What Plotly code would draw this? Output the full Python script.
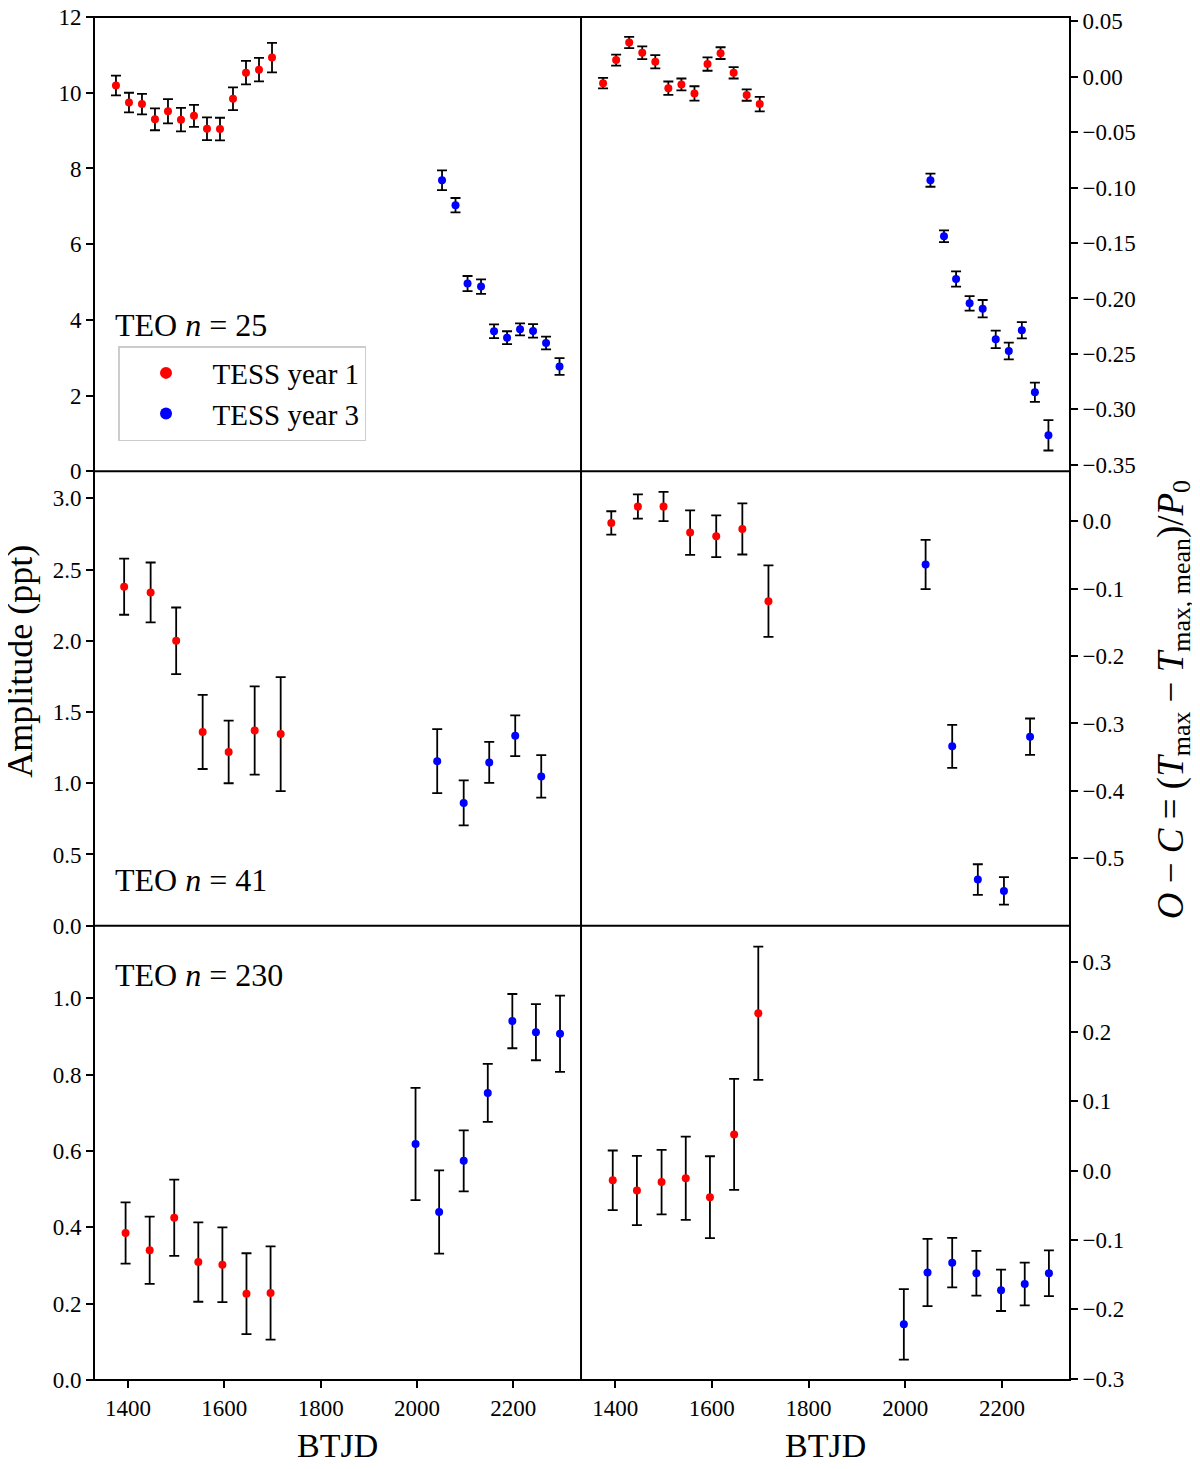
import plotly.graph_objects as go
from plotly.subplots import make_subplots

# ---------------- data ----------------
# Top row (TEO n=25)
top_x_y1 = [1375, 1402, 1429, 1456, 1483, 1510, 1537, 1564, 1591, 1618, 1645, 1672, 1699]
top_x_y3 = [2052, 2080, 2105, 2133, 2160, 2187, 2214, 2241, 2268, 2296]
top_amp_y1 = [10.19, 9.74, 9.70, 9.30, 9.51, 9.29, 9.39, 9.05, 9.04, 9.84, 10.53, 10.61, 10.93]
top_amp_e1 = [0.26, 0.26, 0.27, 0.29, 0.32, 0.31, 0.29, 0.30, 0.30, 0.30, 0.31, 0.31, 0.39]
top_amp_y3 = [7.69, 7.03, 4.96, 4.88, 3.70, 3.53, 3.75, 3.71, 3.39, 2.77]
top_amp_e3 = [0.26, 0.19, 0.20, 0.19, 0.18, 0.17, 0.16, 0.18, 0.17, 0.22]
top_oc_y1 = [-0.0057, 0.0151, 0.0310, 0.0217, 0.0136, -0.0102, -0.0069, -0.0150, 0.0115, 0.0214, 0.0036, -0.0165, -0.0246]
top_oc_e1 = [0.0048, 0.0050, 0.0050, 0.0058, 0.0060, 0.0060, 0.0054, 0.0065, 0.0060, 0.0053, 0.0051, 0.0051, 0.0065]
top_oc_y3 = [-0.0933, -0.1438, -0.1824, -0.2044, -0.2092, -0.2369, -0.2474, -0.2287, -0.2847, -0.3235]
top_oc_e3 = [0.0059, 0.0053, 0.0069, 0.0065, 0.0078, 0.0079, 0.0075, 0.0074, 0.0087, 0.0137]

# Middle row (TEO n=41)
mid_x_y1 = [1392, 1447, 1500, 1555, 1609, 1663, 1717]
mid_x_y3 = [2042, 2097, 2150, 2204, 2258]
mid_amp_y1 = [2.38, 2.34, 2.00, 1.36, 1.22, 1.37, 1.345]
mid_amp_e1 = [0.197, 0.21, 0.234, 0.26, 0.22, 0.31, 0.40]
mid_amp_y3 = [1.155, 0.862, 1.146, 1.333, 1.048]
mid_amp_e3 = [0.225, 0.158, 0.144, 0.143, 0.149]
mid_oc_y1 = [-0.0025, 0.0217, 0.0217, -0.0168, -0.0222, -0.0114, -0.1186]
mid_oc_e1 = [0.0173, 0.018, 0.0217, 0.033, 0.031, 0.038, 0.053]
mid_oc_y3 = [-0.0642, -0.334, -0.5316, -0.5484, -0.3197]
mid_oc_e3 = [0.0366, 0.032, 0.0227, 0.0205, 0.027]

# Bottom row (TEO n=230)
bot_x_y1 = [1395, 1445, 1496, 1546, 1596, 1646, 1696]
bot_x_y3 = [1997, 2046, 2097, 2147, 2198, 2247, 2297]
bot_amp_y1 = [0.385, 0.340, 0.425, 0.309, 0.302, 0.226, 0.228]
bot_amp_e1 = [0.080, 0.088, 0.100, 0.104, 0.098, 0.106, 0.122]
bot_amp_y3 = [0.618, 0.440, 0.574, 0.752, 0.940, 0.911, 0.907]
bot_amp_e3 = [0.147, 0.109, 0.080, 0.076, 0.071, 0.0735, 0.100]
bot_oc_y1 = [-0.0141, -0.0288, -0.0167, -0.0111, -0.0384, 0.052, 0.2268]
bot_oc_e1 = [0.043, 0.050, 0.0465, 0.060, 0.059, 0.080, 0.096]
bot_oc_y3 = [-0.2217, -0.147, -0.1328, -0.148, -0.1727, -0.1636, -0.148]
bot_oc_e3 = [0.0508, 0.0485, 0.0356, 0.0323, 0.0298, 0.0308, 0.033]

series_names = ["TESS year 1", "TESS year 3"]
panel_labels = ["TEO <i>n</i> = 25", "TEO <i>n</i> = 41", "TEO <i>n</i> = 230"]
x_ticks = [1400, 1600, 1800, 2000, 2200]

# ---------------- figure ----------------
FONT = "Liberation Serif"
RED = "#ff0000"
BLUE = "#0000ff"

fig = make_subplots(rows=3, cols=2, horizontal_spacing=0, vertical_spacing=0)

panels = [
    (1, 1, top_x_y1, top_amp_y1, top_amp_e1, top_x_y3, top_amp_y3, top_amp_e3),
    (1, 2, top_x_y1, top_oc_y1, top_oc_e1, top_x_y3, top_oc_y3, top_oc_e3),
    (2, 1, mid_x_y1, mid_amp_y1, mid_amp_e1, mid_x_y3, mid_amp_y3, mid_amp_e3),
    (2, 2, mid_x_y1, mid_oc_y1, mid_oc_e1, mid_x_y3, mid_oc_y3, mid_oc_e3),
    (3, 1, bot_x_y1, bot_amp_y1, bot_amp_e1, bot_x_y3, bot_amp_y3, bot_amp_e3),
    (3, 2, bot_x_y1, bot_oc_y1, bot_oc_e1, bot_x_y3, bot_oc_y3, bot_oc_e3),
]

for i, (r, c, x1, y1, e1, x3, y3, e3) in enumerate(panels):
    for name, xs, ys, es, col in [(series_names[0], x1, y1, e1, RED),
                                  (series_names[1], x3, y3, e3, BLUE)]:
        fig.add_trace(go.Scatter(
            x=xs, y=ys, mode="markers", name=name,
            marker=dict(color=col, size=8, line=dict(width=0)),
            error_y=dict(type="data", array=es, visible=True,
                         color="black", thickness=1.8, width=5),
            showlegend=(i == 0), legendgroup=name,
        ), row=r, col=c)

# domains
XSPLIT = 0.499
row_dom = {1: [2/3, 1.0], 2: [1/3, 2/3], 3: [0.0, 1/3]}
col_dom = {1: [0.0, XSPLIT], 2: [XSPLIT, 1.0]}
xr = [1329.4, 2340.6]

yranges = {
    (1, 1): dict(range=[0, 12.001], tickvals=[0, 2, 4, 6, 8, 10, 12], tickformat="d"),
    (1, 2): dict(range=[-0.356, 0.054],
                 tickvals=[0.05, 0.0, -0.05, -0.10, -0.15, -0.20, -0.25, -0.30, -0.35], tickformat=".2f"),
    (2, 1): dict(range=[0, 3.19], tickvals=[0, 0.5, 1.0, 1.5, 2.0, 2.5, 3.0], tickformat=".1f"),
    (2, 2): dict(range=[-0.6, 0.074], tickvals=[0.0, -0.1, -0.2, -0.3, -0.4, -0.5], tickformat=".1f"),
    (3, 1): dict(range=[0, 1.19], tickvals=[0, 0.2, 0.4, 0.6, 0.8, 1.0], tickformat=".1f"),
    (3, 2): dict(range=[-0.302, 0.353], tickvals=[0.3, 0.2, 0.1, 0.0, -0.1, -0.2, -0.3], tickformat=".1f"),
}

axis_common = dict(showline=False, showgrid=False, zeroline=False, automargin=False,
                   tickcolor="black", tickwidth=1.6, ticklen=7, ticklabeloverflow="allow",
                   tickfont=dict(family=FONT, size=23, color="black"))

for r in (1, 2, 3):
    for c in (1, 2):
        fig.update_xaxes(domain=col_dom[c], range=xr, row=r, col=c, **axis_common)
        if r == 3:
            fig.update_xaxes(ticks="outside", showticklabels=True,
                             tickvals=x_ticks, row=r, col=c)
        else:
            fig.update_xaxes(ticks="", showticklabels=False, row=r, col=c)
        yr = yranges[(r, c)]
        fig.update_yaxes(domain=row_dom[r], ticks="outside",
                         side=("left" if c == 1 else "right"),
                         row=r, col=c, **axis_common, **yr)

# frame: outer box and panel dividers
LW = 2
frame_line = dict(color="black", width=LW)
shapes = [
    dict(type="rect", xref="paper", yref="paper", x0=0, x1=1, y0=0, y1=1,
         line=frame_line, fillcolor="rgba(0,0,0,0)", layer="above"),
    dict(type="line", xref="paper", yref="paper", x0=XSPLIT, x1=XSPLIT, y0=0, y1=1,
         line=frame_line, layer="above"),
    dict(type="line", xref="paper", yref="paper", x0=0, x1=1, y0=1/3, y1=1/3,
         line=frame_line, layer="above"),
    dict(type="line", xref="paper", yref="paper", x0=0, x1=1, y0=2/3, y1=2/3,
         line=frame_line, layer="above"),
]

annotations = []
# panel labels
label_pos = [(0.0195, 0.774), (0.0195, 0.367), (0.0195, 0.297)]
for txt, (ax, ay) in zip(panel_labels, label_pos):
    annotations.append(dict(text=txt, xref="paper", yref="paper", x=ax, y=ay,
                            xanchor="left", yanchor="middle", showarrow=False,
                            font=dict(family=FONT, size=32, color="black")))
# axis titles
annotations.append(dict(text="Amplitude (ppt)", xref="paper", yref="paper",
                        x=-0.0758, y=0.527, textangle=-90, showarrow=False,
                        xanchor="center", yanchor="middle", borderpad=0,
                        font=dict(family=FONT, size=36, color="black")))
annotations.append(dict(text="<i>O</i> − <i>C</i> = (<i>T</i><sub>max</sub> − <i>T</i><sub>max, mean</sub>)/<i>P</i><sub>0</sub>",
                        xref="paper", yref="paper", x=1.106, y=0.499, textangle=-90,
                        showarrow=False, xanchor="center", yanchor="middle", borderpad=0,
                        font=dict(family=FONT, size=37, color="black")))
for cx in (XSPLIT / 2, (1 + XSPLIT) / 2):
    annotations.append(dict(text="BTJD", xref="paper", yref="paper", x=cx, y=-0.0477,
                            showarrow=False, xanchor="center", yanchor="middle",
                            font=dict(family=FONT, size=34, color="black")))

# The page body has an 8px default margin; the figure is sized/margined to compensate
fig.update_layout(
    width=1192, height=1461,
    margin=dict(l=86, r=130, t=9, b=89, autoexpand=False),
    paper_bgcolor="white", plot_bgcolor="white",
    annotations=annotations,
    shapes=shapes,
    showlegend=True,
    legend=dict(x=0.0246, y=0.7586, xanchor="left", yanchor="top",
                bgcolor="white", bordercolor="#cccccc", borderwidth=1.5,
                font=dict(family=FONT, size=29, color="black"),
                itemsizing="constant", itemwidth=83, tracegroupgap=0),
    font=dict(family=FONT, color="black"),
)

fig.write_html("out.html")
